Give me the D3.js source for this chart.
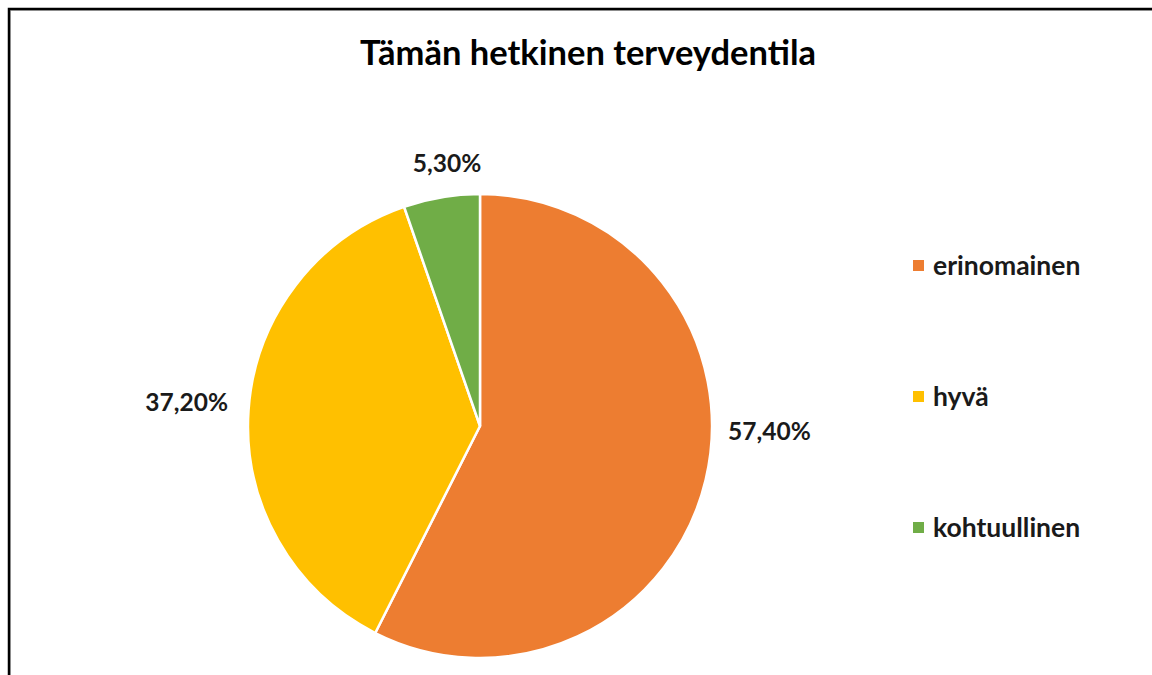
<!DOCTYPE html>
<html>
<head>
<meta charset="utf-8">
<script src="https://cdn.jsdelivr.net/npm/d3@7"></script>
<style>
  html, body { margin: 0; padding: 0; background: #fff; }
  svg { display: block; font-family: Lato, 'Open Sans', sans-serif; }
</style>
</head>
<body>
<div id="chart"></div>
<script>
// Pie chart: current state of health (survey shares)
const title = 'Tämän hetkinen terveydentila';
const categories = ['erinomainen', 'hyvä', 'kohtuullinen'];
const shares = [57.4, 37.2, 5.3];
const colors = ['#ED7D31', '#FFC000', '#70AD47'];

const W = 1152, H = 675;
const cx = 480, cy = 426, R = 232;
// Excel "best fit" label nudges (px), per slice
const LABEL_NUDGE = [[20, -59], [-17, -5], [13, 11]];

const svg = d3.select('#chart').append('svg')
  .attr('width', W).attr('height', H);

// chart frame (right/bottom edges run off the picture)
svg.append('rect')
  .attr('x', 10).attr('y', 10).attr('width', W + 20).attr('height', H + 20)
  .attr('fill', 'none').attr('stroke', '#bbb').attr('stroke-width', 2);
svg.append('rect')
  .attr('x', 9).attr('y', 9).attr('width', W + 20).attr('height', H + 20)
  .attr('fill', 'none').attr('stroke', '#000').attr('stroke-width', 2.5);

svg.append('text')
  .attr('x', 588).attr('y', 65)
  .attr('text-anchor', 'middle')
  .attr('font-size', 34.5).attr('font-weight', 700).attr('fill', '#000')
  .text(title);

const data = categories.map((c, i) => ({ label: c, value: shares[i], color: colors[i], i }));
const pie = d3.pie().value(d => d.value).sort(null);
const arcs = pie(data);
const arc = d3.arc().innerRadius(0).outerRadius(R);
const labelArc = d3.arc().innerRadius(R + 45).outerRadius(R + 45);

const g = svg.append('g').attr('transform', `translate(${cx},${cy})`);
g.selectAll('path.slice').data(arcs).join('path')
  .attr('class', 'slice')
  .attr('d', arc)
  .attr('fill', d => d.data.color)
  .attr('stroke', '#fff').attr('stroke-width', 2.5).attr('stroke-linejoin', 'round');

g.selectAll('text.pct').data(arcs).join('text')
  .attr('class', 'pct')
  .attr('transform', d => {
    const [x, y] = labelArc.centroid(d);
    const [dx, dy] = LABEL_NUDGE[d.data.i];
    return `translate(${x + dx},${y + dy})`;
  })
  .attr('text-anchor', 'middle').attr('dy', '0.35em')
  .attr('font-size', 24.5).attr('font-weight', 700).attr('fill', '#1a1a1a')
  .text(d => d3.format('.2f')(d.data.value).replace('.', ',') + '%');

// legend
const legend = svg.append('g').attr('transform', 'translate(913,265)');
const item = legend.selectAll('g').data(data).join('g')
  .attr('transform', (d, i) => `translate(0,${i * 131})`);
item.append('rect')
  .attr('x', 0).attr('y', -5).attr('width', 11).attr('height', 11)
  .attr('fill', d => d.color);
item.append('text')
  .attr('x', 20).attr('y', 1).attr('dy', '0.35em')
  .attr('font-size', 26.5).attr('font-weight', 700).attr('fill', '#1a1a1a')
  .text(d => d.label);
</script>
</body>
</html>
